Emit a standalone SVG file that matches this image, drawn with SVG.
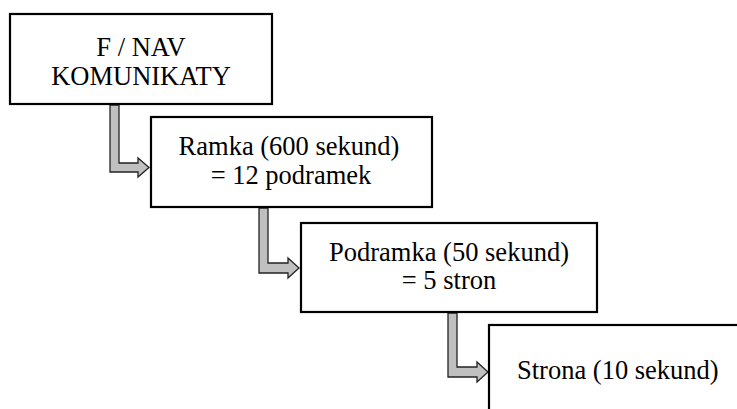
<svg xmlns="http://www.w3.org/2000/svg" width="737" height="409" viewBox="0 0 737 409">
<style>
.box{fill:#fff;stroke:#000;stroke-width:2.2}
.arr{fill:#c0c0c0;stroke:#222;stroke-width:1.3;stroke-linejoin:miter}
.t{font-family:"Liberation Serif","Times New Roman",Times,serif;font-size:26.5px;fill:#000}
.c{text-anchor:middle}
</style>
<rect width="737" height="409" fill="#fff"/>
<g id="connectors">
<path class="arr" d="M110,105 L119,105 L119,163 L138,163 L138,158 L149,167.5 L138,177 L138,172 L110,172 Z"/>
<path class="arr" d="M259,208 L268,208 L268,263 L288,263 L288,258 L299,268 L288,278 L288,273 L259,273 Z"/>
<path class="arr" d="M448,313 L457,313 L457,367 L477,367 L477,362 L488,372 L477,382 L477,377 L448,377 Z"/>
</g>
<g id="node1">
<rect class="box" x="10" y="14" width="262" height="90"/>
<text class="t c" x="141" y="56">F / NAV</text>
<text class="t c" x="141" y="85">KOMUNIKATY</text>
</g>
<g id="node2">
<rect class="box" x="151" y="117" width="281" height="90"/>
<text class="t c" x="289" y="155">Ramka (600 sekund)</text>
<text class="t c" x="291" y="184">= 12 podramek</text>
</g>
<g id="node3">
<rect class="box" x="301" y="223" width="296" height="89"/>
<text class="t c" x="449" y="261">Podramka (50 sekund)</text>
<text class="t c" x="449" y="289">= 5 stron</text>
</g>
<g id="node4">
<rect class="box" x="489" y="325" width="300" height="150"/>
<text class="t" x="517" y="379">Strona (10 sekund)</text>
</g>
</svg>
